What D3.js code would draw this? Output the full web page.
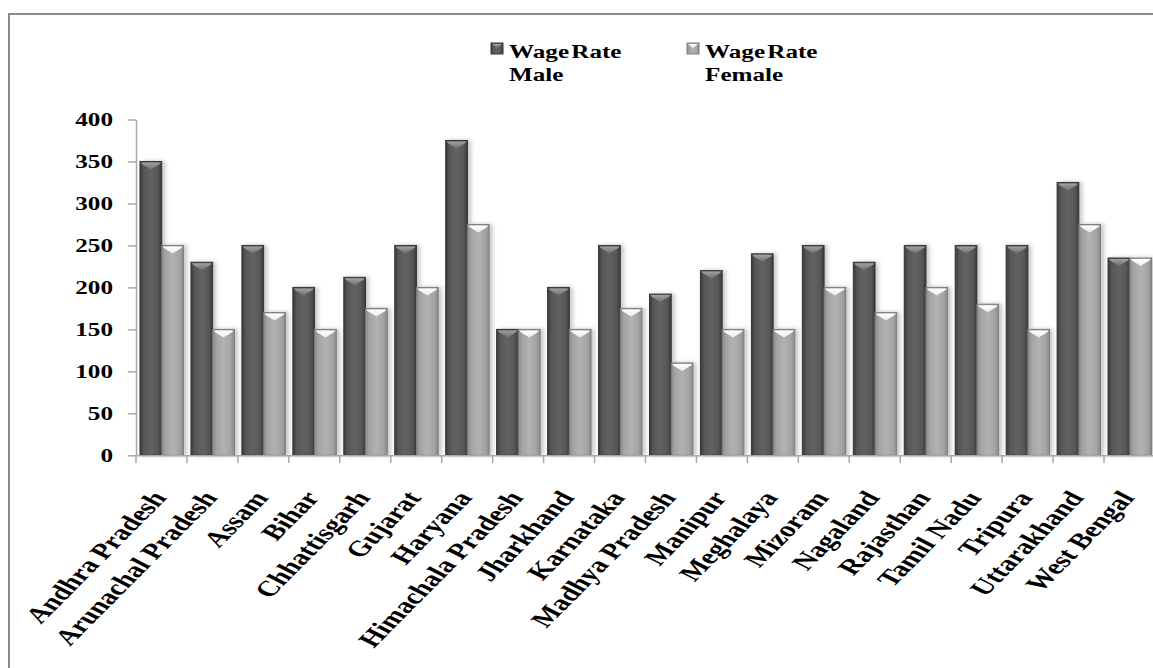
<!DOCTYPE html>
<html>
<head>
<meta charset="utf-8">
<script src="https://cdn.jsdelivr.net/npm/d3@7"></script>
<style>
  html, body { margin: 0; padding: 0; background: #fff; }
  svg { display: block; }
  text { font-family: "Liberation Serif", "Times New Roman", serif; font-weight: bold; fill: #000; }
</style>
</head>
<body>
<svg id="chart" width="1153" height="668"></svg>
<script>
const categories = ["Andhra Pradesh","Arunachal Pradesh","Assam","Bihar","Chhattisgarh","Gujarat","Haryana","Himachala Pradesh","Jharkhand","Karnataka","Madhya Pradesh","Manipur","Meghalaya","Mizoram","Nagaland","Rajasthan","Tamil Nadu","Tripura","Uttarakhand","West Bengal"];
const wageMale   = [350,230,250,200,212,250,375,150,200,250,192,220,240,250,230,250,250,250,325,235];
const wageFemale = [250,150,170,150,175,200,275,150,150,175,110,150,150,200,170,200,180,150,275,235];
const seriesNames = [["Wage Rate","Male"],["Wage Rate","Female"]];
const yTicks = [0,50,100,150,200,250,300,350,400];

const svg = d3.select("#chart");
const SX = 1.4; // horizontal stretch of the original picture

const defs = svg.append("defs");
function hGrad(id, stops) {
  const g = defs.append("linearGradient").attr("id", id).attr("x1","0%").attr("x2","100%").attr("y1","0%").attr("y2","0%");
  stops.forEach(s => g.append("stop").attr("offset", s[0]).attr("stop-color", s[1]));
}
hGrad("gMale", [["0%","#3a3a3a"],["18%","#575757"],["50%","#626262"],["82%","#575757"],["100%","#3a3a3a"]]);
hGrad("gFemale", [["0%","#8a8a8a"],["18%","#a4a4a4"],["50%","#b2b2b2"],["82%","#a4a4a4"],["100%","#8a8a8a"]]);
const vg1 = defs.append("linearGradient").attr("id","cMale").attr("x1","0").attr("x2","0").attr("y1","0").attr("y2","1");
vg1.append("stop").attr("offset","0%").attr("stop-color","#a0a0a0");
vg1.append("stop").attr("offset","100%").attr("stop-color","#707070");
const vg2 = defs.append("linearGradient").attr("id","cFemale").attr("x1","0").attr("x2","0").attr("y1","0").attr("y2","1");
vg2.append("stop").attr("offset","0%").attr("stop-color","#ffffff");
vg2.append("stop").attr("offset","100%").attr("stop-color","#ececec");
const f = defs.append("filter").attr("id","shadow").attr("x","-20%").attr("y","-10%").attr("width","150%").attr("height","120%");
f.append("feDropShadow").attr("dx",3).attr("dy",0).attr("stdDeviation",2).attr("flood-color","#000").attr("flood-opacity",0.22);

// outer frame
svg.append("path").attr("d","M9,668 L9,14 L1153,14").attr("fill","none").attr("stroke","#8a8a8a").attr("stroke-width",2);

const x = d3.scaleBand().domain(categories).range([136, 1155]).padding(0);
const x1 = d3.scaleBand().domain([0,1]).range([4, x.bandwidth() - 3.5]).padding(0);
const y = d3.scaleLinear().domain([0, 400]).range([455.3, 119.5]);

// y axis
const yAxis = svg.append("g").attr("transform","translate(136,0)")
  .call(d3.axisLeft(y).tickValues(yTicks).tickSize(8).tickSizeOuter(0));
yAxis.select(".domain").attr("stroke","#a8a8a8").attr("stroke-width",1.5);
yAxis.selectAll(".tick line").attr("stroke","#a8a8a8").attr("stroke-width",1.5);
yAxis.selectAll(".tick text")
  .attr("x", 0).attr("dy","0.36em")
  .attr("transform","translate(-23,0) scale(" + SX + ",1)")
  .attr("text-anchor","end")
  .style("font-size","18px").style("font-family","'Liberation Serif', serif").style("font-weight","bold").attr("fill","#000");

// bars
const barsG = svg.append("g").attr("filter","url(#shadow)");
const series = [wageMale, wageFemale];
const fills = ["url(#gMale)","url(#gFemale)"];
const strokes = ["#353535","#7c7c7c"];
const caps = ["url(#cMale)","url(#cFemale)"];
categories.forEach((c, i) => {
  series.forEach((vals, s) => {
    const bx = x(c) + x1(s), bw = x1.bandwidth();
    const top = y(vals[i]), bot = y(0);
    barsG.append("rect").attr("x", bx).attr("y", top).attr("width", bw).attr("height", bot - top)
      .attr("fill", fills[s]).attr("stroke", strokes[s]).attr("stroke-width", 1);
    barsG.append("path")
      .attr("d", `M${bx+1},${top+1} L${bx+bw-1},${top+1} L${bx+bw-2},${top+2.5} L${bx+bw/2},${top+8} L${bx+2},${top+2.5} Z`)
      .attr("fill", caps[s]);
  });
});

// x axis
const xAxis = svg.append("g").attr("transform","translate(0,455.3)")
  .call(d3.axisBottom(x).tickSize(0).tickFormat(""));
xAxis.select(".domain").attr("stroke","#a8a8a8").attr("stroke-width",1.5);
const edges = categories.map(c => x(c));
svg.append("g").selectAll("line").data(edges).join("line")
  .attr("x1", d => d).attr("x2", d => d).attr("y1", 455.3).attr("y2", 463)
  .attr("stroke","#a8a8a8").attr("stroke-width",1.5);

svg.append("g").selectAll("text").data(categories).join("text")
  .attr("transform", c => `translate(${x(c) + x.bandwidth()/2 + 6},498) scale(${SX},1) rotate(-54.5)`)
  .attr("text-anchor","end")
  .style("font-size","22px")
  .text(c => c);

// legend
const legendX = [491, 687];
seriesNames.forEach((nm, s) => {
  const lg = svg.append("g");
  lg.append("rect").attr("x", legendX[s]).attr("y", 43).attr("width", 12).attr("height", 11)
    .attr("fill", fills[s]).attr("stroke", strokes[s]).attr("stroke-width", 1);
  lg.append("path").attr("d", `M${legendX[s]+1},44 L${legendX[s]+11},44 L${legendX[s]+6},48 Z`).attr("fill", caps[s]);
  nm.forEach((t, k) => {
    lg.append("text").attr("transform", `translate(${legendX[s] + 18},${58 + k*23}) scale(${SX},1)`)
      .style("font-size","18px").style("word-spacing","-3px").text(t);
  });
});
</script>
</body>
</html>
